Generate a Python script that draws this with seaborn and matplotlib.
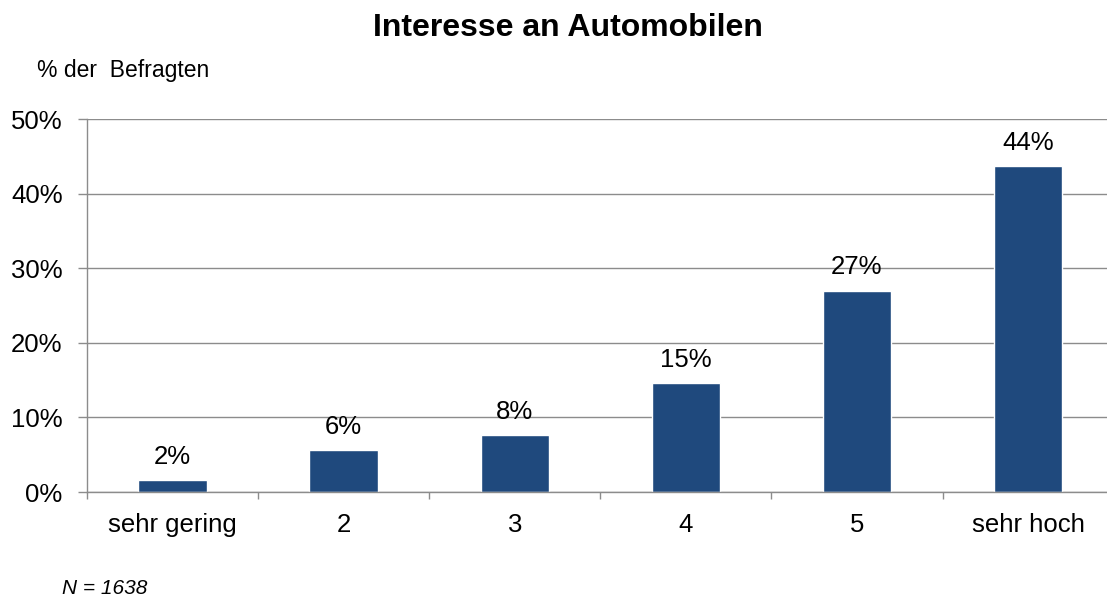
import matplotlib
matplotlib.use("Agg")
import matplotlib.pyplot as plt
import seaborn as sns
import pandas as pd
from matplotlib.ticker import FixedLocator

categories = ["sehr gering", "2", "3", "4", "5", "sehr hoch"]
values = [1.6, 5.6, 7.6, 14.6, 27.0, 43.7]
labels = ["2%", "6%", "8%", "15%", "27%", "44%"]
yticks = [0, 10, 20, 30, 40, 50]

sns.set_style("white")
plt.rcParams['font.family'] = ['Liberation Sans', 'DejaVu Sans']
plt.rcParams['text.color'] = 'black'

df = pd.DataFrame({"kat": categories, "wert": values})

fig = plt.figure(figsize=(11.07, 5.99), dpi=100)
# axes reach slightly past the right edge, as in the original
ax = fig.add_axes([0.0786, 0.1786, 0.9274, 0.6227])

sns.barplot(data=df, x="kat", y="wert", color="#1F497D", width=0.40,
            saturation=1, ax=ax)

ax.set_ylim(0, 50)
ax.set_xlim(-0.5, 5.5)
ax.set_yticks(yticks)
ax.set_yticklabels([f"{t}%" for t in yticks], fontsize=18.5)
ax.yaxis.grid(True, color="#8c8c8c", linewidth=1)
ax.set_axisbelow(True)

ax.set_xticks(range(len(categories)))
ax.set_xticklabels(categories, fontsize=18.5)
ax.xaxis.set_minor_locator(FixedLocator([i - 0.5 for i in range(len(categories) + 1)]))
ax.tick_params(axis="x", which="major", length=0, pad=15, labelcolor="black")
ax.tick_params(axis="x", which="minor", length=5, color="#8c8c8c", width=1, direction="out", bottom=True)
ax.tick_params(axis="y", length=6.5, color="#8c8c8c", width=1, direction="out", left=True, pad=11,
               labelcolor="black")

for side in ["top", "right"]:
    ax.spines[side].set_visible(False)
for side in ["left", "bottom"]:
    ax.spines[side].set_color("#8c8c8c")
    ax.spines[side].set_linewidth(1)

ax.set_xlabel("")
ax.set_ylabel("")

for i, (v, lab) in enumerate(zip(values, labels)):
    ax.annotate(lab, (i, v), xytext=(0, 8), textcoords="offset points",
                ha="center", va="bottom", fontsize=18.5, color="black")

fig.text(0.513, 0.953, "Interesse an Automobilen", ha="center", va="center",
         fontsize=23, fontweight="bold")
fig.text(0.033, 0.883, "% der  Befragten", ha="left", va="center", fontsize=16.5)
fig.text(0.056, 0.0167, "N = 1638", ha="left", va="center", fontsize=15, style="italic")

fig.savefig("out.png", dpi=100)
